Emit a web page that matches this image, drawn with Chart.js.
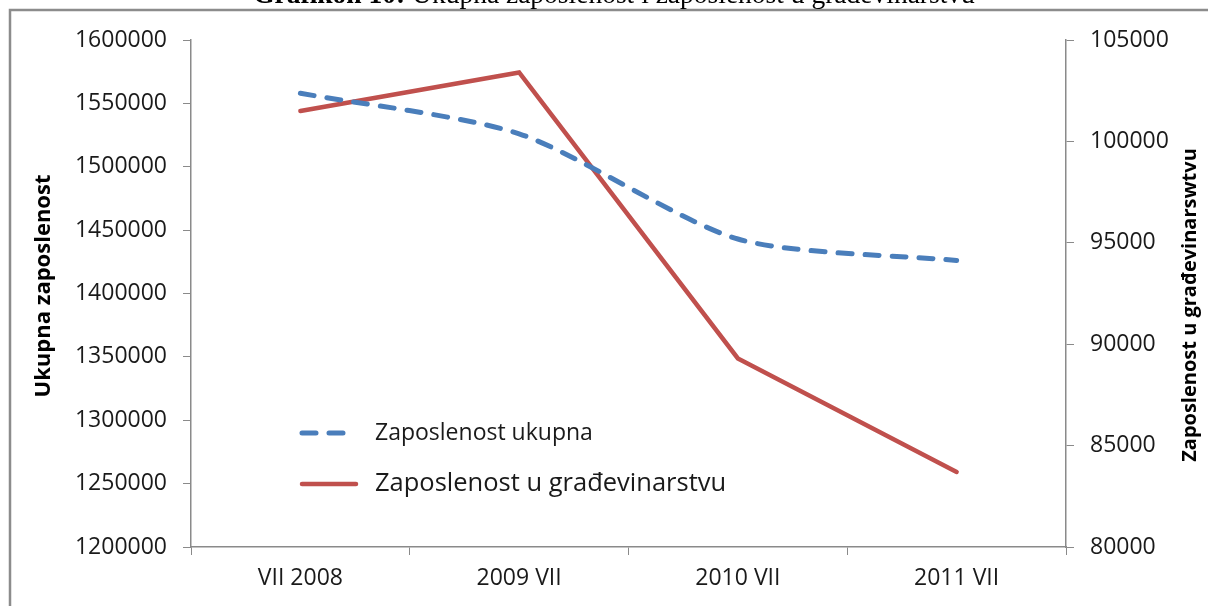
<!DOCTYPE html>
<html>
<head>
<meta charset="utf-8">
<script src="https://cdn.jsdelivr.net/npm/chart.js@4.4.0/dist/chart.umd.min.js"></script>
<style>
  html, body { margin: 0; padding: 0; background: #fff; }
  #wrap { width: 1208px; height: 606px; position: relative; }
</style>
</head>
<body>
<div id="wrap"><canvas id="chart"></canvas></div>
<script>
// data
const categories = ['VII 2008', '2009 VII', '2010 VII', '2011 VII'];
const zaposlenostUkupna = [1558000, 1526000, 1443000, 1426000];
const zaposlenostGradjevinarstvo = [101500, 103400, 89300, 83700];
const leftTicks = [1200000, 1250000, 1300000, 1350000, 1400000, 1450000, 1500000, 1550000, 1600000];
const rightTicks = [80000, 85000, 90000, 95000, 100000, 105000];

const BLUE = '#4a7ebb';
const RED = '#c0504d';
const AXIS = '#8a8a8a';
const FONT = '"Open Sans", sans-serif';

// frame, cut-off title, axis titles, legend
const decor = {
    id: 'decor',
    beforeDraw(chart) {
        const ctx = chart.ctx;
        ctx.save();
        ctx.fillStyle = '#fff';
        ctx.fillRect(0, 0, chart.width, chart.height);
        ctx.strokeStyle = '#8c8c8c';
        ctx.lineWidth = 2.5;
        ctx.beginPath();
        ctx.moveTo(10, chart.height + 5);
        ctx.lineTo(10, 10);
        ctx.lineTo(chart.width + 5, 10);
        ctx.stroke();

        // title, only its lower part is visible
        const t1 = 'Grafikon 10:';
        const t2 = ' Ukupna zaposlenost i zaposlenost u građevinarstvu';
        const size = 27.5;
        ctx.fillStyle = '#000';
        ctx.textBaseline = 'alphabetic';
        ctx.font = 'bold ' + size + 'px "Liberation Serif", serif';
        const w1 = ctx.measureText(t1).width;
        ctx.font = size + 'px "Liberation Serif", serif';
        const w2 = ctx.measureText(t2).width;
        const x = 614 - (w1 + w2) / 2;
        ctx.font = 'bold ' + size + 'px "Liberation Serif", serif';
        ctx.fillText(t1, x, 3);
        ctx.font = size + 'px "Liberation Serif", serif';
        ctx.fillText(t2, x + w1, 3);
        ctx.restore();
    },
    afterDraw(chart) {
        const ctx = chart.ctx;
        const area = chart.chartArea;
        ctx.save();
        ctx.fillStyle = '#000';
        ctx.textAlign = 'center';
        ctx.textBaseline = 'middle';
        ctx.font = 'bold 22px ' + FONT;
        ctx.translate(44, 286);
        ctx.rotate(-Math.PI / 2);
        ctx.fillText('Ukupna zaposlenost', 0, 0);
        ctx.restore();

        ctx.save();
        ctx.fillStyle = '#000';
        ctx.textAlign = 'center';
        ctx.textBaseline = 'middle';
        ctx.font = 'bold 20px ' + FONT;
        ctx.translate(1190, 305);
        ctx.rotate(-Math.PI / 2);
        ctx.fillText('Zaposlenost u građevinarswtvu', 0, 0);
        ctx.restore();

        // legend inside plot
        const lx = area.left + 109;
        ctx.save();
        ctx.lineCap = 'round';
        ctx.strokeStyle = BLUE;
        ctx.lineWidth = 5;
        ctx.setLineDash([14, 13]);
        ctx.beginPath();
        ctx.moveTo(lx + 2, 433);
        ctx.lineTo(lx + 56, 433);
        ctx.stroke();
        ctx.setLineDash([]);
        ctx.strokeStyle = RED;
        ctx.lineWidth = 4.5;
        ctx.beginPath();
        ctx.moveTo(lx + 2, 484);
        ctx.lineTo(lx + 56, 484);
        ctx.stroke();
        ctx.fillStyle = '#1a1a1a';
        ctx.textAlign = 'left';
        ctx.textBaseline = 'middle';
        ctx.font = '23px ' + FONT;
        ctx.fillText('Zaposlenost ukupna', lx + 75, 433);
        ctx.font = '25.5px ' + FONT;
        ctx.fillText('Zaposlenost u građevinarstvu', lx + 75, 484);
        ctx.restore();
    }
};

const tickFont = { family: FONT, size: 23 };

new Chart(document.getElementById('chart'), {
    type: 'line',
    data: {
        labels: categories,
        datasets: [
            {
                label: 'Zaposlenost ukupna',
                data: zaposlenostUkupna,
                yAxisID: 'y',
                borderColor: BLUE,
                borderWidth: 5,
                borderDash: [14, 13],
                borderCapStyle: 'round',
                tension: 0.25,
                pointRadius: 0,
                fill: false
            },
            {
                label: 'Zaposlenost u građevinarstvu',
                data: zaposlenostGradjevinarstvo,
                yAxisID: 'y1',
                borderColor: RED,
                borderWidth: 4.5,
                borderCapStyle: 'round',
                tension: 0,
                pointRadius: 0,
                fill: false
            }
        ]
    },
    options: {
        responsive: true,
        maintainAspectRatio: false,
        animation: false,
        layout: { padding: { top: 40, left: 0, right: 0, bottom: 0 } },
        plugins: {
            legend: { display: false },
            tooltip: { enabled: false }
        },
        scales: {
            x: {
                offset: true,
                grid: { offset: true, drawOnChartArea: false, tickLength: 8, color: AXIS },
                border: { color: AXIS, width: 1.5 },
                ticks: { font: tickFont, color: '#1a1a1a', padding: 10, maxRotation: 0 },
                afterFit: s => { s.height = 59; }
            },
            y: {
                position: 'left',
                min: leftTicks[0],
                max: leftTicks[leftTicks.length - 1],
                afterBuildTicks: s => { s.ticks = leftTicks.map(v => ({ value: v })); },
                grid: { drawOnChartArea: false, tickLength: 8, color: AXIS },
                border: { color: AXIS, width: 1.5 },
                ticks: { font: tickFont, color: '#1a1a1a', padding: 16, callback: v => String(v) },
                afterFit: s => { s.width = 191; }
            },
            y1: {
                position: 'right',
                min: rightTicks[0],
                max: rightTicks[rightTicks.length - 1],
                afterBuildTicks: s => { s.ticks = rightTicks.map(v => ({ value: v })); },
                grid: { drawOnChartArea: false, tickLength: 8, color: AXIS },
                border: { color: AXIS, width: 1.5 },
                ticks: { font: tickFont, color: '#1a1a1a', padding: 16, callback: v => String(v) },
                afterFit: s => { s.width = 142; }
            }
        }
    },
    plugins: [decor]
});
</script>
</body>
</html>
